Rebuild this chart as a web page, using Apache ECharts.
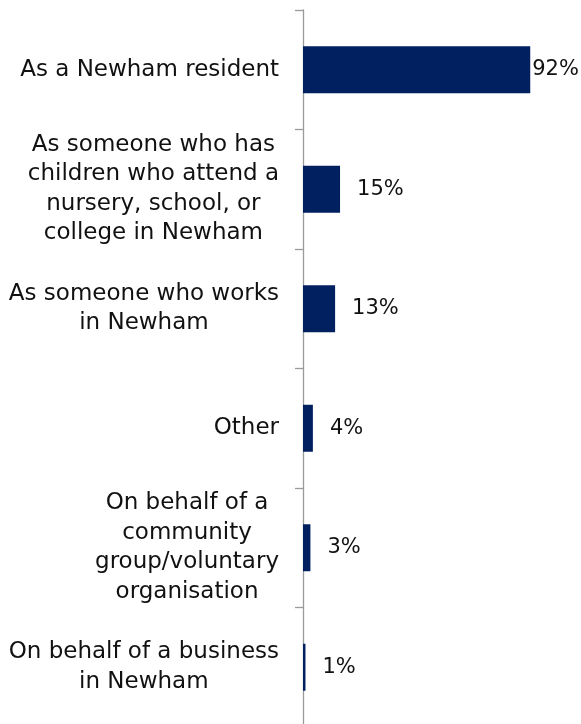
<!DOCTYPE html>
<html>
<head>
<meta charset="utf-8">
<script src="https://cdn.jsdelivr.net/npm/echarts@6/dist/echarts.min.js"></script>
<style>html,body{margin:0;padding:0;background:#fff;overflow:hidden;}#c{width:581px;height:727px;}</style>
</head>
<body>
<div id="c"></div>
<script>
const categories = [
  "As a Newham resident",
  "As someone who has\nchildren who attend a\nnursery, school, or\ncollege in Newham",
  "As someone who works\nin Newham",
  "Other",
  "On behalf of a\ncommunity\ngroup/voluntary\norganisation",
  "On behalf of a business\nin Newham"
];
const values = [92, 15, 13, 4, 3, 1];

const FONT = 'DejaVu Sans';
const chart = echarts.init(document.getElementById('c'));
chart.setOption({
  animation: false,
  grid: { left: 303, top: 10, right: 31, bottom: 0 },
  xAxis: { type: 'value', min: 0, max: 100, show: false },
  yAxis: {
    type: 'category',
    inverse: true,
    data: categories,
    axisLine: { lineStyle: { color: '#9a9a9a', width: 1.3 } },
    axisTick: { show: true, length: 8, lineStyle: { color: '#9a9a9a', width: 1.3 } },
    axisLabel: {
      margin: 24,
      color: '#111',
      fontFamily: FONT,
      fontSize: 23,
      lineHeight: 29.5,
      formatter: function (v) {
        return v.split('\n').map(function (l) { return '{c|' + l + '}'; }).join('\n');
      },
      rich: { c: { align: 'center', fontFamily: FONT, fontSize: 23, lineHeight: 29.5, color: '#111' } }
    }
  },
  series: [{
    type: 'bar',
    barWidth: 47,
    data: values.map(function (v, i) {
      return i === 0 ? { value: v, label: { distance: 2 } } : v;
    }),
    itemStyle: { color: '#002060' },
    label: {
      show: true,
      position: 'right',
      distance: 17,
      formatter: '{c}%',
      fontFamily: FONT,
      fontSize: 21,
      color: '#111'
    }
  }]
});
</script>
</body>
</html>
